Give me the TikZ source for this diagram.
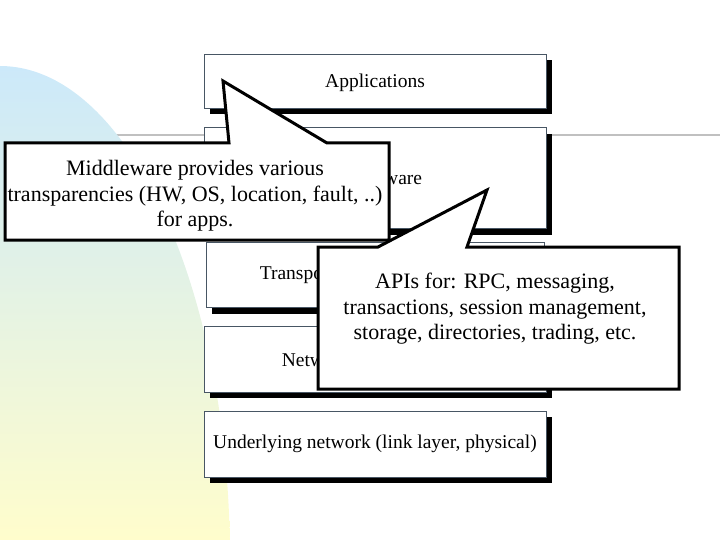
\documentclass[tikz,border=0pt]{standalone}
\usepackage{fontspec}
\setmainfont{Liberation Serif}
\usetikzlibrary{positioning, shadows}

\definecolor{skyfill}{RGB}{204,233,250}
\definecolor{mintfill}{RGB}{224,241,226}
\definecolor{creamfill}{RGB}{255,253,204}
\definecolor{boxedge}{RGB}{72,86,100}
\definecolor{ruleline}{RGB}{192,192,192}

\begin{document}
\begin{tikzpicture}[
		x=1pt, y=-1pt,
		layertext/.style={font=\fontsize{19.5}{23}\selectfont},
		layer/.style={layertext, draw=boxedge, fill=white, line width=0.8pt,
			minimum width=342pt, minimum height=54pt,
			drop shadow={shadow xshift=6pt, shadow yshift=-6pt, fill=black, opacity=1}},
		note/.style={line width=3pt, draw=black, fill=white},
		notetext/.style={align=center, font=\fontsize{22}{25.5}\selectfont}]

	\useasboundingbox (0,0) rectangle (720,540);

	% slide background
	\draw[ruleline, line width=2pt] (100,135) -- (720,135);
	\shade[top color=skyfill, middle color=mintfill, bottom color=creamfill]
		(0,540) -- (0,66) arc[start angle=-90, end angle=-2.3, x radius=230, y radius=494] -- cycle;

	% layers
	\node[layer, text depth=1pt] (apps) at (375,81) {Applications};
	\node[layer, minimum height=101pt, below=19pt of apps] (mid) {Middleware};
	\node[layer, minimum width=338pt, minimum height=65pt, below=13pt of mid] (trans) {};
	\node[layer, minimum height=66pt, below=18pt of trans] (net) {};
	\node[layer, minimum height=66pt, below=18pt of net] (under) {Underlying network (link layer, physical)};
	\node[layertext, anchor=west, inner sep=0pt] (transtxt) at ([xshift=54pt]trans.west) {Transport};
	\node[layertext, anchor=west, inner sep=0pt] (nettxt) at ([xshift=78pt]net.west) {Network};

	% callouts
	\coordinate (mwtip) at (223,81);
	\draw[note] (5,143) -- (229,143) -- (mwtip) -- (327,143) -- (389,143) -- (389,240) -- (5,240) -- cycle;
	\node[notetext] (mwnote) at (195,196) {Middleware provides various\\transparencies (HW, OS, location, fault, ..)\\for apps.};

	\coordinate (apitip) at (487,190);
	\draw[note] (318,247) -- (378,247) -- (apitip) -- (467,247) -- (679,247) -- (679,389) -- (318,389) -- cycle;
	\node[notetext] (apinote) at (495,309) {APIs for: RPC, messaging,\\transactions, session management,\\storage, directories, trading, etc.};

\end{tikzpicture}
\end{document}
